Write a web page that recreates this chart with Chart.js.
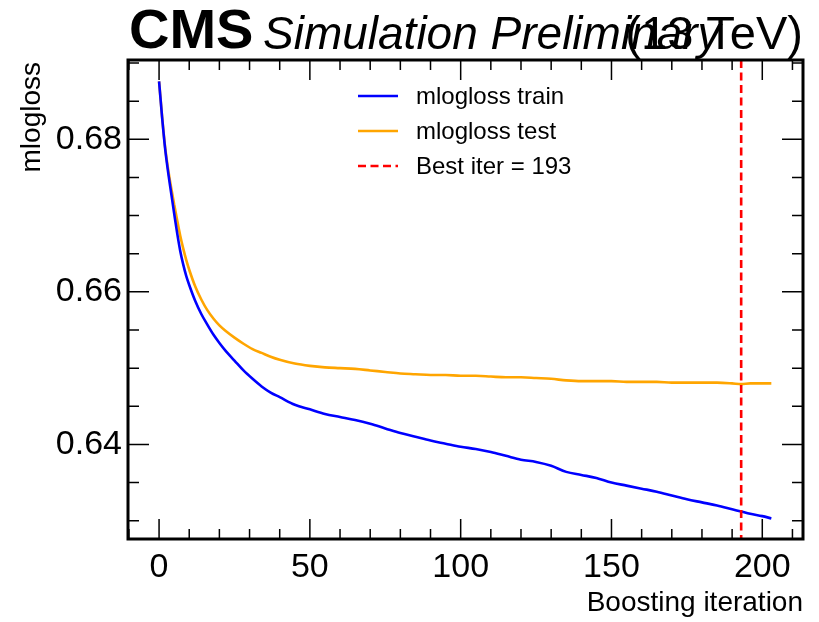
<!DOCTYPE html>
<html>
<head>
<meta charset="utf-8">
<script src="https://cdn.jsdelivr.net/npm/chart.js@4/dist/chart.umd.min.js"></script>
<style>
html,body{margin:0;padding:0;background:#fff;}
#wrap{width:819px;height:622px;}
</style>
</head>
<body>
<div id="wrap"><canvas id="c" width="819" height="622"></canvas></div>
<script>
const iterations = [0,1,2,3,4,5,6,7,8,9,10,12,14,16,18,20,22,25,28,31,34,37,40,45,50,55,60,65,70,75,80,85,90,95,100,105,110,115,120,125,130,135,140,145,150,155,160,165,170,175,180,185,190,193,196,200,203];
const trainLoss = [0.6876,0.6829,0.6788,0.6757,0.6730,0.6703,0.6677,0.6654,0.6636,0.6621,0.6609,0.6588,0.6571,0.6557,0.6544,0.6533,0.6523,0.6510,0.6497,0.6486,0.6476,0.6468,0.6462,0.6452,0.6446,0.6440,0.6436,0.6432,0.6427,0.6421,0.6415,0.6410,0.6405,0.6401,0.6397,0.6394,0.6390,0.6385,0.6380,0.6377,0.6372,0.6364,0.6360,0.6356,0.6350,0.6346,0.6342,0.6338,0.6333,0.6328,0.6324,0.6320,0.6315,0.6312,0.6309,0.6306,0.6303];
const testLoss = [0.6876,0.6830,0.6790,0.6761,0.6737,0.6715,0.6694,0.6674,0.6657,0.6642,0.6629,0.6607,0.6590,0.6576,0.6565,0.6556,0.6549,0.6540,0.6532,0.6525,0.6520,0.6515,0.6511,0.6506,0.6503,0.6501,0.6500,0.6499,0.6497,0.6495,0.6493,0.6492,0.6491,0.6491,0.6490,0.6490,0.6489,0.6488,0.6488,0.6487,0.6486,0.6484,0.6483,0.6483,0.6483,0.6482,0.6482,0.6482,0.6481,0.6481,0.6481,0.6481,0.6480,0.6479,0.6480,0.6480,0.6480];
const bestIter = 193;
const seriesLabels = ['mlogloss train','mlogloss test','Best iter = ' + bestIter];
const xMajorTicks = [0,50,100,150,200];
const xMinorTicks = [-10,10,20,30,40,60,70,80,90,110,120,130,140,160,170,180,190,210];
const yMajorTicks = [0.64,0.66,0.68];
const yMinorTicks = [0.63,0.635,0.645,0.65,0.655,0.665,0.67,0.675,0.685,0.69];
const xLimits = [-10.3, 213.5];
const yLimits = [0.6276, 0.6904];

const FONT = '"Liberation Sans", Arial, Helvetica, sans-serif';
const colors = {train:'#0000ff', test:'#ffa500', best:'#ff0000'};

const frameTicks = {
  id:'frameTicks',
  afterDatasetsDraw(chart){
    const {ctx, chartArea:a, scales:{x,y}} = chart;
    ctx.save();
    const bx = x.getPixelForValue(bestIter);
    ctx.strokeStyle = colors.best; ctx.lineWidth = 2.6; ctx.setLineDash([8,4.5]);
    ctx.beginPath(); ctx.moveTo(bx, a.top); ctx.lineTo(bx, a.bottom); ctx.stroke();
    ctx.setLineDash([]);
    ctx.strokeStyle = '#000'; ctx.lineWidth = 1.5;
    const tx = (v, len) => { const p = x.getPixelForValue(v);
      ctx.beginPath(); ctx.moveTo(p, a.bottom); ctx.lineTo(p, a.bottom - len);
      ctx.moveTo(p, a.top); ctx.lineTo(p, a.top + len); ctx.stroke(); };
    const ty = (v, len) => { const p = y.getPixelForValue(v);
      ctx.beginPath(); ctx.moveTo(a.left, p); ctx.lineTo(a.left + len, p);
      ctx.moveTo(a.right, p); ctx.lineTo(a.right - len, p); ctx.stroke(); };
    xMajorTicks.forEach(v => tx(v, 20)); xMinorTicks.forEach(v => tx(v, 10));
    yMajorTicks.forEach(v => ty(v, 21)); yMinorTicks.forEach(v => ty(v, 11));
    ctx.lineWidth = 3;
    ctx.strokeRect(a.left, a.top, a.right - a.left, a.bottom - a.top);
    const lg = [[colors.train, []], [colors.test, []], [colors.best, [8,4.5]]];
    ctx.font = '24px ' + FONT; ctx.fillStyle = '#000'; ctx.textBaseline = 'alphabetic'; ctx.textAlign = 'left';
    lg.forEach((l, i) => {
      const yy = 96 + i * 35;
      ctx.strokeStyle = l[0]; ctx.lineWidth = 2.6; ctx.setLineDash(l[1]);
      ctx.beginPath(); ctx.moveTo(358, yy); ctx.lineTo(398, yy); ctx.stroke();
      ctx.setLineDash([]);
      ctx.fillText(seriesLabels[i], 416, yy + 8);
    });
    ctx.fillStyle = '#000';
    ctx.font = 'bold 56px ' + FONT; ctx.textAlign = 'left';
    ctx.fillText('CMS', 129, 48);
    ctx.font = 'italic 46px ' + FONT;
    ctx.fillText('Simulation Preliminary', 263, 49);
    ctx.font = '47px ' + FONT; ctx.textAlign = 'right';
    ctx.fillText('(13 TeV)', a.right, 49);
    ctx.font = '28px ' + FONT; ctx.textAlign = 'right';
    ctx.fillText('Boosting iteration', a.right, 611);
    ctx.save();
    ctx.translate(40, a.top + 2); ctx.rotate(-Math.PI/2);
    ctx.font = '28px ' + FONT; ctx.textAlign = 'right';
    ctx.fillText('mlogloss', 0, 0);
    ctx.restore();
    ctx.restore();
  }
};

new Chart(document.getElementById('c'), {
  type:'line',
  data:{
    datasets:[
      {label:seriesLabels[0], data:iterations.map((v,i)=>({x:v, y:trainLoss[i]})), borderColor:colors.train, borderWidth:2.6, pointRadius:0, cubicInterpolationMode:'monotone', fill:false},
      {label:seriesLabels[1], data:iterations.map((v,i)=>({x:v, y:testLoss[i]})), borderColor:colors.test, borderWidth:2.6, pointRadius:0, cubicInterpolationMode:'monotone', fill:false}
    ]
  },
  options:{
    responsive:false, animation:false, devicePixelRatio:1,
    layout:{padding:{left:0, top:60, right:16, bottom:0}},
    plugins:{legend:{display:false}, tooltip:{enabled:false}},
    scales:{
      x:{type:'linear', min:xLimits[0], max:xLimits[1],
         grid:{display:false, drawTicks:false}, border:{display:false},
         afterBuildTicks(s){ s.ticks = xMajorTicks.map(v=>({value:v})); },
         afterFit(s){ s.height = 83; },
         ticks:{font:{family:FONT, size:34}, color:'#000', padding:8, maxRotation:0, callback:v=>String(v)}},
      y:{type:'linear', min:yLimits[0], max:yLimits[1],
         grid:{display:false, drawTicks:false}, border:{display:false},
         afterBuildTicks(s){ s.ticks = yMajorTicks.map(v=>({value:v})); },
         afterFit(s){ s.width = 128; },
         ticks:{font:{family:FONT, size:34}, color:'#000', padding:6, callback:v=>Number(v).toFixed(2)}}
    }
  },
  plugins:[frameTicks]
});
</script>
</body>
</html>
